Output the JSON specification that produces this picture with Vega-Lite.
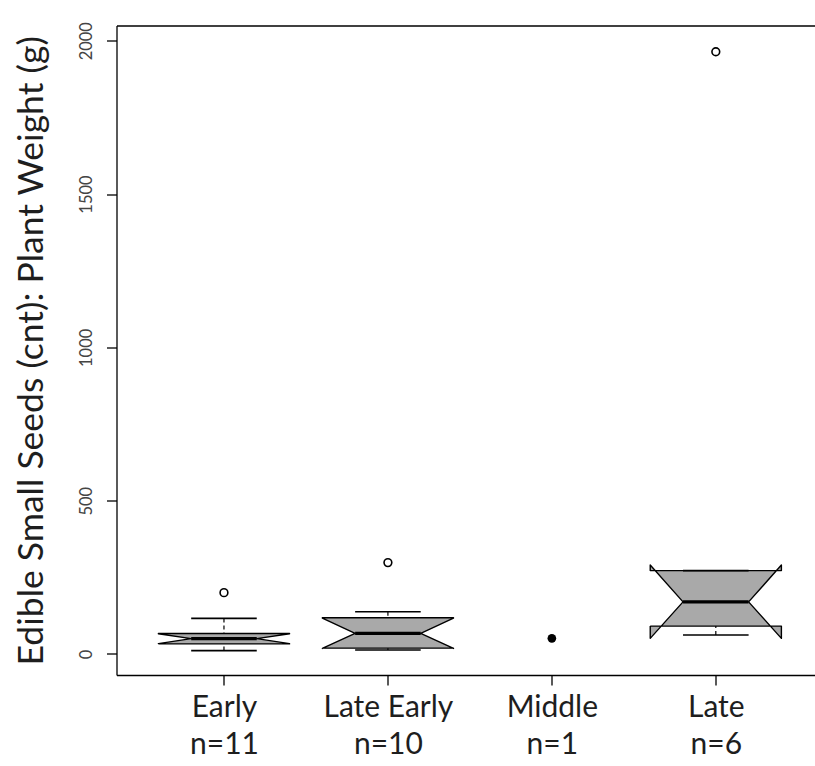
{
  "$schema": "https://vega.github.io/schema/vega-lite/v6.json",
  "width": 698.5,
  "height": 649.5,
  "autosize": {"type": "none"},
  "padding": {"left": 116.5, "top": 25.5, "right": 0, "bottom": 91},
  "background": "white",
  "config": {"view": {"stroke": null}, "font": "Lato"},
  "resolve": {"axis": {"x": "independent", "y": "independent"}},
  "datasets": {
    "stats": [
      {"period": "Early", "n": 11, "lo": 11, "q1": 33, "nlo": 34, "med": 50, "nhi": 66, "q3": 67, "hi": 116},
      {"period": "Late Early", "n": 10, "lo": 13, "q1": 19, "nlo": 18, "med": 67, "nhi": 117, "q3": 118, "hi": 138},
      {"period": "Middle", "n": 1, "lo": null, "q1": null, "nlo": null, "med": null, "nhi": null, "q3": null, "hi": null},
      {"period": "Late", "n": 6, "lo": 62, "q1": 91, "nlo": 51, "med": 170, "nhi": 290, "q3": 272, "hi": 272}
    ],
    "points": [
      {"period": "Early", "value": 200, "kind": "outlier"},
      {"period": "Late Early", "value": 298, "kind": "outlier"},
      {"period": "Middle", "value": 51, "kind": "single"},
      {"period": "Late", "value": 1964, "kind": "outlier"}
    ]
  },
  "layer": [
    {
      "data": {"name": "stats"},
      "transform": [
        {"filter": "isValid(datum.q1)"},
        {"calculate": "datum.period == 'Early' ? 1 : datum.period == 'Late Early' ? 2 : datum.period == 'Middle' ? 3 : 4", "as": "pos"},
        {"calculate": "[-0.4,-0.4,-0.2,-0.4,-0.4,0.4,0.4,0.2,0.4,0.4,-0.4]", "as": "vx"},
        {"calculate": "[datum.q1, datum.nlo, datum.med, datum.nhi, datum.q3, datum.q3, datum.nhi, datum.med, datum.nlo, datum.q1, datum.q1]", "as": "vy"},
        {"calculate": "[0,1,2,3,4,5,6,7,8,9,10]", "as": "vi"},
        {"flatten": ["vx", "vy", "vi"]},
        {"calculate": "datum.pos + datum.vx", "as": "px"}
      ],
      "mark": {"type": "line", "fill": "#a9a9a9", "stroke": "#000000", "strokeWidth": 1.4, "strokeJoin": "round"},
      "encoding": {
        "x": {
          "field": "px", "type": "quantitative",
          "scale": {"domain": [0.3445, 4.605], "nice": false, "zero": false},
          "axis": {
            "values": [1, 2, 3, 4], "title": null, "grid": false,
            "tickSize": 10, "tickColor": "#000000", "tickWidth": 1.3,
            "domainColor": "#000000", "domainWidth": 1.3,
            "labelFontSize": 30, "labelColor": "#1e1e1e", "labelPadding": 7,
            "labelLineHeight": 37, "labelBaseline": "top",
            "labelExpr": "datum.value == 1 ? ['Early','n=11'] : datum.value == 2 ? ['Late Early','n=10'] : datum.value == 3 ? ['Middle','n=1'] : ['Late','n=6']"
          }
        },
        "y": {
          "field": "vy", "type": "quantitative",
          "scale": {"domain": [-68.5, 2049.6], "nice": false, "zero": false},
          "axis": {
            "values": [0, 500, 1000, 1500, 2000], "format": "d", "grid": false,
            "title": "Edible Small Seeds (cnt): Plant Weight (g)",
            "titleFontSize": 35.5, "titleFontWeight": "normal", "titleColor": "#1e1e1e", "titlePadding": 29,
            "tickSize": 10, "tickColor": "#000000", "tickWidth": 1.3,
            "domainColor": "#000000", "domainWidth": 1.3,
            "labelAngle": -90, "labelFontSize": 16.5, "labelColor": "#444444", "labelPadding": 12
          }
        },
        "order": {"field": "vi", "type": "quantitative"},
        "detail": {"field": "period", "type": "nominal"}
      }
    },
    {
      "data": {"name": "stats"},
      "transform": [
        {"filter": "isValid(datum.q1)"},
        {"calculate": "datum.period == 'Early' ? 1 : datum.period == 'Late Early' ? 2 : datum.period == 'Middle' ? 3 : 4", "as": "pos"},
        {"calculate": "datum.pos - 0.2", "as": "xa"},
        {"calculate": "datum.pos + 0.2", "as": "xb"}
      ],
      "mark": {"type": "rule", "stroke": "#000000", "strokeWidth": 3.2},
      "encoding": {
        "x": {
          "field": "xa", "type": "quantitative",
          "scale": {"domain": [0.3445, 4.605], "nice": false, "zero": false},
          "axis": {"orient": "top", "labels": false, "ticks": false, "grid": false, "title": null, "domainColor": "#000000", "domainWidth": 1.3}
        },
        "x2": {"field": "xb"},
        "y": {"field": "med", "type": "quantitative", "scale": {"domain": [-68.5, 2049.6], "nice": false, "zero": false}, "axis": null}
      }
    },
    {
      "data": {"name": "stats"},
      "transform": [
        {"filter": "isValid(datum.q1)"},
        {"calculate": "datum.period == 'Early' ? 1 : datum.period == 'Late Early' ? 2 : datum.period == 'Middle' ? 3 : 4", "as": "pos"},
        {"fold": ["lo", "hi"], "as": ["end", "w"]},
        {"calculate": "datum.end == 'lo' ? datum.q1 : datum.q3", "as": "hinge"}
      ],
      "mark": {"type": "rule", "stroke": "#000000", "strokeWidth": 1.2, "strokeDash": [4, 3]},
      "encoding": {
        "x": {"field": "pos", "type": "quantitative", "scale": {"domain": [0.3445, 4.605], "nice": false, "zero": false}, "axis": null},
        "y": {"field": "w", "type": "quantitative", "scale": {"domain": [-68.5, 2049.6], "nice": false, "zero": false}, "axis": null},
        "y2": {"field": "hinge"}
      }
    },
    {
      "data": {"name": "stats"},
      "transform": [
        {"filter": "isValid(datum.q1)"},
        {"calculate": "datum.period == 'Early' ? 1 : datum.period == 'Late Early' ? 2 : datum.period == 'Middle' ? 3 : 4", "as": "pos"},
        {"calculate": "datum.pos - 0.2", "as": "xa"},
        {"calculate": "datum.pos + 0.2", "as": "xb"},
        {"fold": ["lo", "hi"], "as": ["end", "w"]}
      ],
      "mark": {"type": "rule", "stroke": "#000000", "strokeWidth": 1.6},
      "encoding": {
        "x": {"field": "xa", "type": "quantitative", "scale": {"domain": [0.3445, 4.605], "nice": false, "zero": false}, "axis": null},
        "x2": {"field": "xb"},
        "y": {"field": "w", "type": "quantitative", "scale": {"domain": [-68.5, 2049.6], "nice": false, "zero": false}, "axis": null}
      }
    },
    {
      "data": {"name": "points"},
      "transform": [
        {"filter": "datum.kind == 'outlier'"},
        {"calculate": "datum.period == 'Early' ? 1 : datum.period == 'Late Early' ? 2 : datum.period == 'Middle' ? 3 : 4", "as": "pos"}
      ],
      "mark": {"type": "point", "shape": "circle", "filled": false, "stroke": "#000000", "strokeWidth": 1.6, "size": 60, "opacity": 1},
      "encoding": {
        "x": {"field": "pos", "type": "quantitative", "scale": {"domain": [0.3445, 4.605], "nice": false, "zero": false}, "axis": null},
        "y": {"field": "value", "type": "quantitative", "scale": {"domain": [-68.5, 2049.6], "nice": false, "zero": false}, "axis": null}
      }
    },
    {
      "data": {"name": "points"},
      "transform": [
        {"filter": "datum.kind == 'single'"},
        {"calculate": "datum.period == 'Early' ? 1 : datum.period == 'Late Early' ? 2 : datum.period == 'Middle' ? 3 : 4", "as": "pos"}
      ],
      "mark": {"type": "point", "shape": "circle", "filled": true, "fill": "#000000", "size": 75, "opacity": 1},
      "encoding": {
        "x": {"field": "pos", "type": "quantitative", "scale": {"domain": [0.3445, 4.605], "nice": false, "zero": false}, "axis": null},
        "y": {"field": "value", "type": "quantitative", "scale": {"domain": [-68.5, 2049.6], "nice": false, "zero": false}, "axis": null}
      }
    }
  ]
}
